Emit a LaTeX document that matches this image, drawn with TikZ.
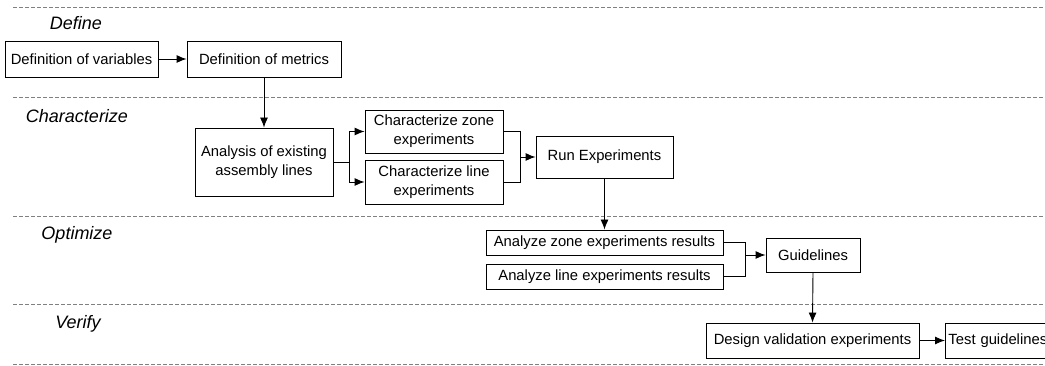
\documentclass[tikz,border=0pt]{standalone}
\usepackage{fontspec}
\setmainfont{Liberation Sans}
\usetikzlibrary{arrows.meta}
\begin{document}
\begin{tikzpicture}[x=1pt,y=-1pt,
  box/.style={draw=black,line width=0.9pt,rectangle,inner sep=0pt,align=center,
    font=\fontsize{14.8}{19}\selectfont},
  lane/.style={anchor=base,font=\fontsize{18}{22}\selectfont\itshape},
  sep/.style={draw=black!50,line width=0.9pt,dash pattern=on 4pt off 2pt},
  conn/.style={line width=0.9pt,draw=black},
  arr/.style={conn,-{Latex[length=10pt,width=8pt]}}]
\useasboundingbox (0,0) rectangle (1045,366);
% separators
\foreach \yy in {7,97,216,304,364} \draw[sep] (13,\yy) -- (1045,\yy);
% lane labels
\node[lane] (ldef) at (76,30) {Define};
\node[lane] (lchar) at (77,123) {Characterize};
\node[lane] (lopt) at (77,240) {Optimize};
\node[lane] (lver) at (78,328) {Verify};
% boxes
\node[box,minimum width=153,minimum height=36] (var) at (81.5,59) {Definition of variables};
\node[box,minimum width=154,minimum height=36] (met) at (264,59) {Definition of metrics};
\node[box,minimum width=138,minimum height=68] (ana) at (264,162) {Analysis of existing\\assembly lines};
\node[box,minimum width=138,minimum height=43] (cz) at (434,131.5) {Characterize zone\\experiments};
\node[box,minimum width=138,minimum height=44] (cl) at (434,182) {Characterize line\\experiments};
\node[box,minimum width=137,minimum height=42] (run) at (604.5,157) {Run Experiments};
\node[box,minimum width=237,minimum height=25] (az) at (604.5,242.5) {Analyze zone experiments results};
\node[box,minimum width=237,minimum height=25] (al) at (604.5,276.5) {Analyze line experiments results};
\node[box,minimum width=94,minimum height=34] (gl) at (813,255) {Guidelines};
\node[box,minimum width=213,minimum height=35] (dv) at (812.5,340.5) {Design validation experiments};
\node[box,anchor=west,minimum height=35,inner xsep=3pt,text width=112pt,align=left] (tg) at (945,340.5) {Test guidelines};
% connectors
\draw[arr] (var) -- (met);
\draw[arr] (met.south) -- (ana.north);
\draw[conn] (ana.east) -- ++(16,0) coordinate (f1);
\draw[arr] (f1) |- (cz.west);
\draw[arr] (f1) |- (cl.west);
\draw[conn] (cz.east) -- ++(17,0) coordinate (m1) -- (m1 |- cl.east) -- (cl.east);
\draw[arr] (m1 |- run.west) -- (run.west);
\draw[arr] (run.south) -- (az.north);
\draw[conn] (az.east) -- ++(22,0) coordinate (m2) -- (m2 |- al.east) -- (al.east);
\draw[arr] (m2 |- gl.west) -- (gl.west);
\draw[arr] (gl.south) -- (dv.north);
\draw[arr] (dv.east) -- (tg.west);
\end{tikzpicture}
\end{document}
